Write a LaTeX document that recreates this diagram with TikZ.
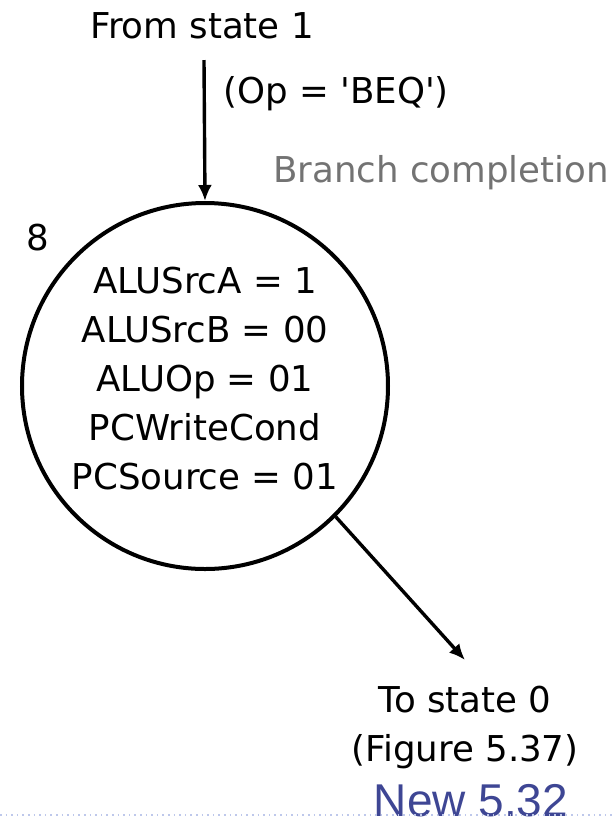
\documentclass[tikz,border=0pt]{standalone}
\usepackage{fontspec}
\setmainfont{DejaVu Sans}
\newfontfamily\slidefont{Liberation Sans}
\usetikzlibrary{positioning, arrows.meta}
\definecolor{slideblue}{RGB}{62,70,148}
\definecolor{rulerblue}{RGB}{190,200,235}

\begin{document}
\begin{tikzpicture}[
    x=0.5pt, y=-0.5pt,
    state/.style={circle, draw, line width=2pt, minimum size=183pt, inner sep=0pt},
    txt/.style={font=\fontsize{17.8}{24.5}\selectfont, inner sep=0pt, align=center},
    line/.style={draw, line width=1.7pt, -{Latex[length=8pt, width=7pt]}}
]
    \useasboundingbox (0,0) rectangle (613,827);

    % State 8
    \node[state] (s8) at (205,386) {};
    \node[txt] (signals) at (205,379) {ALUSrcA = 1\\ALUSrcB = 00\\ALUOp = 01\\PCWriteCond\\PCSource = 01};
    \node[txt, anchor=base] (num) at (38,250) {8};

    % Labels
    \node[txt, anchor=base] (from) at (202,38) {From state 1};
    \node[txt, anchor=base west] (cond) at (223,103) {(Op = \textquotesingle BEQ\textquotesingle)};
    \node[txt, anchor=base west, text=black!55] (title) at (273,182) {Branch completion};
    \node[txt] (to) at (465,727) {To state 0\\(Figure 5.37)};
    \node[font=\slidefont\fontsize{23}{28}\selectfont, text=slideblue, inner sep=0pt, anchor=base] (slide) at (471,816) {New 5.32};

    % Edges
    \coordinate (start) at (204,60);
    \coordinate (end) at (465,660);
    \draw[line] (start) -- (s8.north);
    \draw[line] (s8.-45) -- (end);

    % Ruler
    \draw[rulerblue, dotted, line width=0.8pt] (0,815) -- (613,815);

\end{tikzpicture}
\end{document}
